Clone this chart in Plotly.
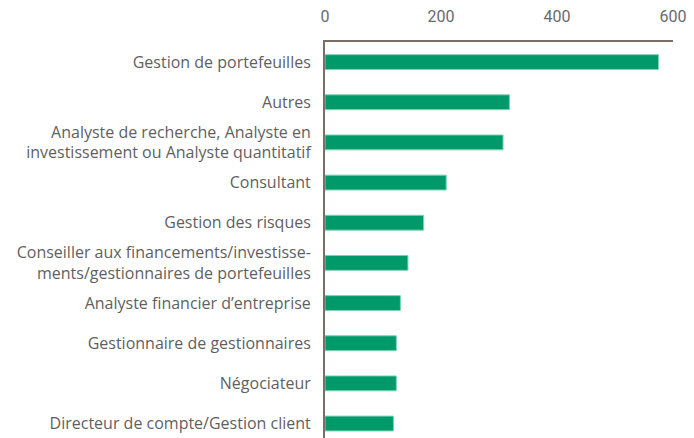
import plotly.graph_objects as go

categories = [
    "Gestion de portefeuilles",
    "Autres",
    "Analyste de recherche, Analyste en<br>investissement ou Analyste quantitatif",
    "Consultant",
    "Gestion des risques",
    "Conseiller aux financements/investisse-<br>ments/gestionnaires de portefeuilles",
    "Analyste financier d’entreprise",
    "Gestionnaire de gestionnaires",
    "Négociateur",
    "Directeur de compte/Gestion client",
]
values = [575, 318, 307, 209, 170, 143, 130, 123, 123, 118]
x_ticks = [0, 200, 400, 600]

fig = go.Figure(go.Bar(
    x=values, y=categories, orientation="h",
    marker=dict(color="#00996a", line=dict(color="#7fd3b2", width=1)),
))

fig.update_layout(
    width=694, height=438,
    margin=dict(l=325, r=21, t=42, b=0),
    paper_bgcolor="white", plot_bgcolor="white",
    bargap=0.63,
    showlegend=False,
    font=dict(family="Open Sans", size=16, color="#5f5f5f"),
)
fig.update_xaxes(
    side="top", range=[0, 600], tickvals=x_ticks,
    showgrid=False, zeroline=False,
    showline=True, linecolor="#7a6e66", linewidth=1.5,
    tickfont=dict(family="Roboto", size=16, color="#6a6a6a"),
    ticks="", ticklabelstandoff=12,
)
fig.update_yaxes(
    type="category", categoryorder="array", categoryarray=categories,
    range=[9.36, -0.5],
    showgrid=False, zeroline=False,
    showline=True, linecolor="#7a6e66", linewidth=2,
    ticks="", ticklabelstandoff=9,
    tickfont=dict(family="Open Sans", size=16, color="#5f5f5f"),
)

fig.write_html("out.html")
